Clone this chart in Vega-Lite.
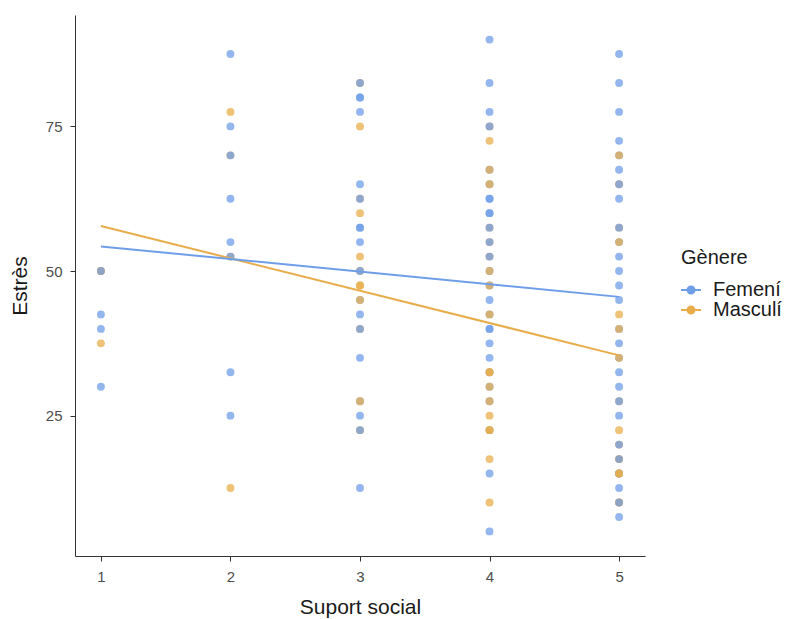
{
  "$schema": "https://vega.github.io/schema/vega-lite/v6.json",
  "width": 570,
  "height": 541,
  "autosize": {"type": "none"},
  "padding": {"left": 75, "top": 15, "right": 143, "bottom": 63},
  "background": "white",
  "config": {
    "font": "Liberation Sans",
    "view": {"stroke": null},
    "axis": {
      "grid": false,
      "domainColor": "#333333",
      "domainWidth": 1,
      "tickColor": "#333333",
      "tickSize": 5,
      "labelColor": "#4d4d4d",
      "labelFontSize": 15,
      "titleFontSize": 21,
      "titleFontWeight": "normal",
      "titleColor": "#1a1a1a"
    }
  },
  "data": {
    "values": [
      {"suport": 1, "estres": 50, "genere": "Masculí"},
      {"suport": 1, "estres": 50, "genere": "Masculí"},
      {"suport": 1, "estres": 37.5, "genere": "Masculí"},
      {"suport": 2, "estres": 77.5, "genere": "Masculí"},
      {"suport": 2, "estres": 70, "genere": "Masculí"},
      {"suport": 2, "estres": 52.5, "genere": "Masculí"},
      {"suport": 2, "estres": 12.5, "genere": "Masculí"},
      {"suport": 3, "estres": 82.5, "genere": "Masculí"},
      {"suport": 3, "estres": 75, "genere": "Masculí"},
      {"suport": 3, "estres": 62.5, "genere": "Masculí"},
      {"suport": 3, "estres": 60, "genere": "Masculí"},
      {"suport": 3, "estres": 52.5, "genere": "Masculí"},
      {"suport": 3, "estres": 50, "genere": "Masculí"},
      {"suport": 3, "estres": 47.5, "genere": "Masculí"},
      {"suport": 3, "estres": 47.5, "genere": "Masculí"},
      {"suport": 3, "estres": 40, "genere": "Masculí"},
      {"suport": 3, "estres": 22.5, "genere": "Masculí"},
      {"suport": 4, "estres": 75, "genere": "Masculí"},
      {"suport": 4, "estres": 72.5, "genere": "Masculí"},
      {"suport": 4, "estres": 57.5, "genere": "Masculí"},
      {"suport": 4, "estres": 55, "genere": "Masculí"},
      {"suport": 4, "estres": 52.5, "genere": "Masculí"},
      {"suport": 4, "estres": 25, "genere": "Masculí"},
      {"suport": 4, "estres": 17.5, "genere": "Masculí"},
      {"suport": 4, "estres": 10, "genere": "Masculí"},
      {"suport": 5, "estres": 65, "genere": "Masculí"},
      {"suport": 5, "estres": 57.5, "genere": "Masculí"},
      {"suport": 5, "estres": 42.5, "genere": "Masculí"},
      {"suport": 5, "estres": 27.5, "genere": "Masculí"},
      {"suport": 5, "estres": 22.5, "genere": "Masculí"},
      {"suport": 5, "estres": 20, "genere": "Masculí"},
      {"suport": 5, "estres": 17.5, "genere": "Masculí"},
      {"suport": 5, "estres": 17.5, "genere": "Masculí"},
      {"suport": 5, "estres": 10, "genere": "Masculí"},
      {"suport": 5, "estres": 10, "genere": "Masculí"},

      {"suport": 1, "estres": 50, "genere": "Femení"},
      {"suport": 1, "estres": 42.5, "genere": "Femení"},
      {"suport": 1, "estres": 40, "genere": "Femení"},
      {"suport": 1, "estres": 30, "genere": "Femení"},
      {"suport": 2, "estres": 87.5, "genere": "Femení"},
      {"suport": 2, "estres": 75, "genere": "Femení"},
      {"suport": 2, "estres": 70, "genere": "Femení"},
      {"suport": 2, "estres": 62.5, "genere": "Femení"},
      {"suport": 2, "estres": 55, "genere": "Femení"},
      {"suport": 2, "estres": 52.5, "genere": "Femení"},
      {"suport": 2, "estres": 32.5, "genere": "Femení"},
      {"suport": 2, "estres": 25, "genere": "Femení"},
      {"suport": 3, "estres": 82.5, "genere": "Femení"},
      {"suport": 3, "estres": 80, "genere": "Femení"},
      {"suport": 3, "estres": 80, "genere": "Femení"},
      {"suport": 3, "estres": 77.5, "genere": "Femení"},
      {"suport": 3, "estres": 65, "genere": "Femení"},
      {"suport": 3, "estres": 62.5, "genere": "Femení"},
      {"suport": 3, "estres": 57.5, "genere": "Femení"},
      {"suport": 3, "estres": 57.5, "genere": "Femení"},
      {"suport": 3, "estres": 55, "genere": "Femení"},
      {"suport": 3, "estres": 50, "genere": "Femení"},
      {"suport": 3, "estres": 45, "genere": "Femení"},
      {"suport": 3, "estres": 42.5, "genere": "Femení"},
      {"suport": 3, "estres": 40, "genere": "Femení"},
      {"suport": 3, "estres": 35, "genere": "Femení"},
      {"suport": 3, "estres": 27.5, "genere": "Femení"},
      {"suport": 3, "estres": 25, "genere": "Femení"},
      {"suport": 3, "estres": 22.5, "genere": "Femení"},
      {"suport": 3, "estres": 12.5, "genere": "Femení"},
      {"suport": 4, "estres": 90, "genere": "Femení"},
      {"suport": 4, "estres": 82.5, "genere": "Femení"},
      {"suport": 4, "estres": 77.5, "genere": "Femení"},
      {"suport": 4, "estres": 75, "genere": "Femení"},
      {"suport": 4, "estres": 67.5, "genere": "Femení"},
      {"suport": 4, "estres": 65, "genere": "Femení"},
      {"suport": 4, "estres": 62.5, "genere": "Femení"},
      {"suport": 4, "estres": 62.5, "genere": "Femení"},
      {"suport": 4, "estres": 60, "genere": "Femení"},
      {"suport": 4, "estres": 60, "genere": "Femení"},
      {"suport": 4, "estres": 57.5, "genere": "Femení"},
      {"suport": 4, "estres": 55, "genere": "Femení"},
      {"suport": 4, "estres": 52.5, "genere": "Femení"},
      {"suport": 4, "estres": 50, "genere": "Femení"},
      {"suport": 4, "estres": 47.5, "genere": "Femení"},
      {"suport": 4, "estres": 45, "genere": "Femení"},
      {"suport": 4, "estres": 42.5, "genere": "Femení"},
      {"suport": 4, "estres": 40, "genere": "Femení"},
      {"suport": 4, "estres": 40, "genere": "Femení"},
      {"suport": 4, "estres": 37.5, "genere": "Femení"},
      {"suport": 4, "estres": 35, "genere": "Femení"},
      {"suport": 4, "estres": 32.5, "genere": "Femení"},
      {"suport": 4, "estres": 30, "genere": "Femení"},
      {"suport": 4, "estres": 27.5, "genere": "Femení"},
      {"suport": 4, "estres": 22.5, "genere": "Femení"},
      {"suport": 4, "estres": 15, "genere": "Femení"},
      {"suport": 4, "estres": 5, "genere": "Femení"},
      {"suport": 5, "estres": 87.5, "genere": "Femení"},
      {"suport": 5, "estres": 82.5, "genere": "Femení"},
      {"suport": 5, "estres": 77.5, "genere": "Femení"},
      {"suport": 5, "estres": 72.5, "genere": "Femení"},
      {"suport": 5, "estres": 70, "genere": "Femení"},
      {"suport": 5, "estres": 67.5, "genere": "Femení"},
      {"suport": 5, "estres": 65, "genere": "Femení"},
      {"suport": 5, "estres": 62.5, "genere": "Femení"},
      {"suport": 5, "estres": 57.5, "genere": "Femení"},
      {"suport": 5, "estres": 55, "genere": "Femení"},
      {"suport": 5, "estres": 52.5, "genere": "Femení"},
      {"suport": 5, "estres": 50, "genere": "Femení"},
      {"suport": 5, "estres": 47.5, "genere": "Femení"},
      {"suport": 5, "estres": 45, "genere": "Femení"},
      {"suport": 5, "estres": 40, "genere": "Femení"},
      {"suport": 5, "estres": 37.5, "genere": "Femení"},
      {"suport": 5, "estres": 35, "genere": "Femení"},
      {"suport": 5, "estres": 32.5, "genere": "Femení"},
      {"suport": 5, "estres": 30, "genere": "Femení"},
      {"suport": 5, "estres": 27.5, "genere": "Femení"},
      {"suport": 5, "estres": 25, "genere": "Femení"},
      {"suport": 5, "estres": 20, "genere": "Femení"},
      {"suport": 5, "estres": 17.5, "genere": "Femení"},
      {"suport": 5, "estres": 15, "genere": "Femení"},
      {"suport": 5, "estres": 15, "genere": "Femení"},
      {"suport": 5, "estres": 12.5, "genere": "Femení"},
      {"suport": 5, "estres": 10, "genere": "Femení"},
      {"suport": 5, "estres": 7.5, "genere": "Femení"},

      {"suport": 3, "estres": 45, "genere": "Masculí"},
      {"suport": 3, "estres": 27.5, "genere": "Masculí"},
      {"suport": 4, "estres": 67.5, "genere": "Masculí"},
      {"suport": 4, "estres": 65, "genere": "Masculí"},
      {"suport": 4, "estres": 50, "genere": "Masculí"},
      {"suport": 4, "estres": 47.5, "genere": "Masculí"},
      {"suport": 4, "estres": 42.5, "genere": "Masculí"},
      {"suport": 4, "estres": 32.5, "genere": "Masculí"},
      {"suport": 4, "estres": 32.5, "genere": "Masculí"},
      {"suport": 4, "estres": 30, "genere": "Masculí"},
      {"suport": 4, "estres": 27.5, "genere": "Masculí"},
      {"suport": 4, "estres": 22.5, "genere": "Masculí"},
      {"suport": 4, "estres": 22.5, "genere": "Masculí"},
      {"suport": 5, "estres": 70, "genere": "Masculí"},
      {"suport": 5, "estres": 55, "genere": "Masculí"},
      {"suport": 5, "estres": 40, "genere": "Masculí"},
      {"suport": 5, "estres": 35, "genere": "Masculí"},
      {"suport": 5, "estres": 15, "genere": "Masculí"},
      {"suport": 5, "estres": 15, "genere": "Masculí"}
    ]
  },
  "encoding": {
    "x": {
      "field": "suport",
      "type": "quantitative",
      "scale": {"domain": [0.8, 5.2], "nice": false, "zero": false},
      "axis": {"values": [1, 2, 3, 4, 5], "format": "d", "title": "Suport social", "labelPadding": 8, "titlePadding": 12}
    },
    "y": {
      "field": "estres",
      "type": "quantitative",
      "scale": {"domain": [0.75, 94.25], "nice": false, "zero": false},
      "axis": {"values": [25, 50, 75], "title": "Estrès", "labelPadding": 8, "titlePadding": 15}
    },
    "color": {
      "field": "genere",
      "type": "nominal",
      "scale": {"domain": ["Femení", "Masculí"], "range": ["#6f9ee8", "#e8ad4a"]},
      "legend": {
        "title": "Gènere",
        "orient": "none",
        "legendX": 606,
        "legendY": 233,
        "titleFontSize": 20,
        "titleFontWeight": "normal",
        "titleColor": "#1a1a1a",
        "titlePadding": 12,
        "labelFontSize": 20,
        "labelColor": "#1a1a1a",
        "labelOffset": 12,
        "symbolType": "M-1,-0.1H1V0.1H-1Z M-0.45,0A0.45,0.45 0 1,1 0.45,0A0.45,0.45 0 1,1 -0.45,0Z",
        "symbolSize": 400,
        "symbolStrokeWidth": 0,
        "symbolOpacity": 1,
        "rowPadding": -2
      }
    }
  },
  "layer": [
    {
      "mark": {"type": "point", "filled": true, "size": 62, "opacity": 0.75}
    },
    {
      "transform": [
        {"regression": "estres", "on": "suport", "groupby": ["genere"], "extent": [1, 5]}
      ],
      "mark": {"type": "line", "strokeWidth": 2}
    }
  ]
}
